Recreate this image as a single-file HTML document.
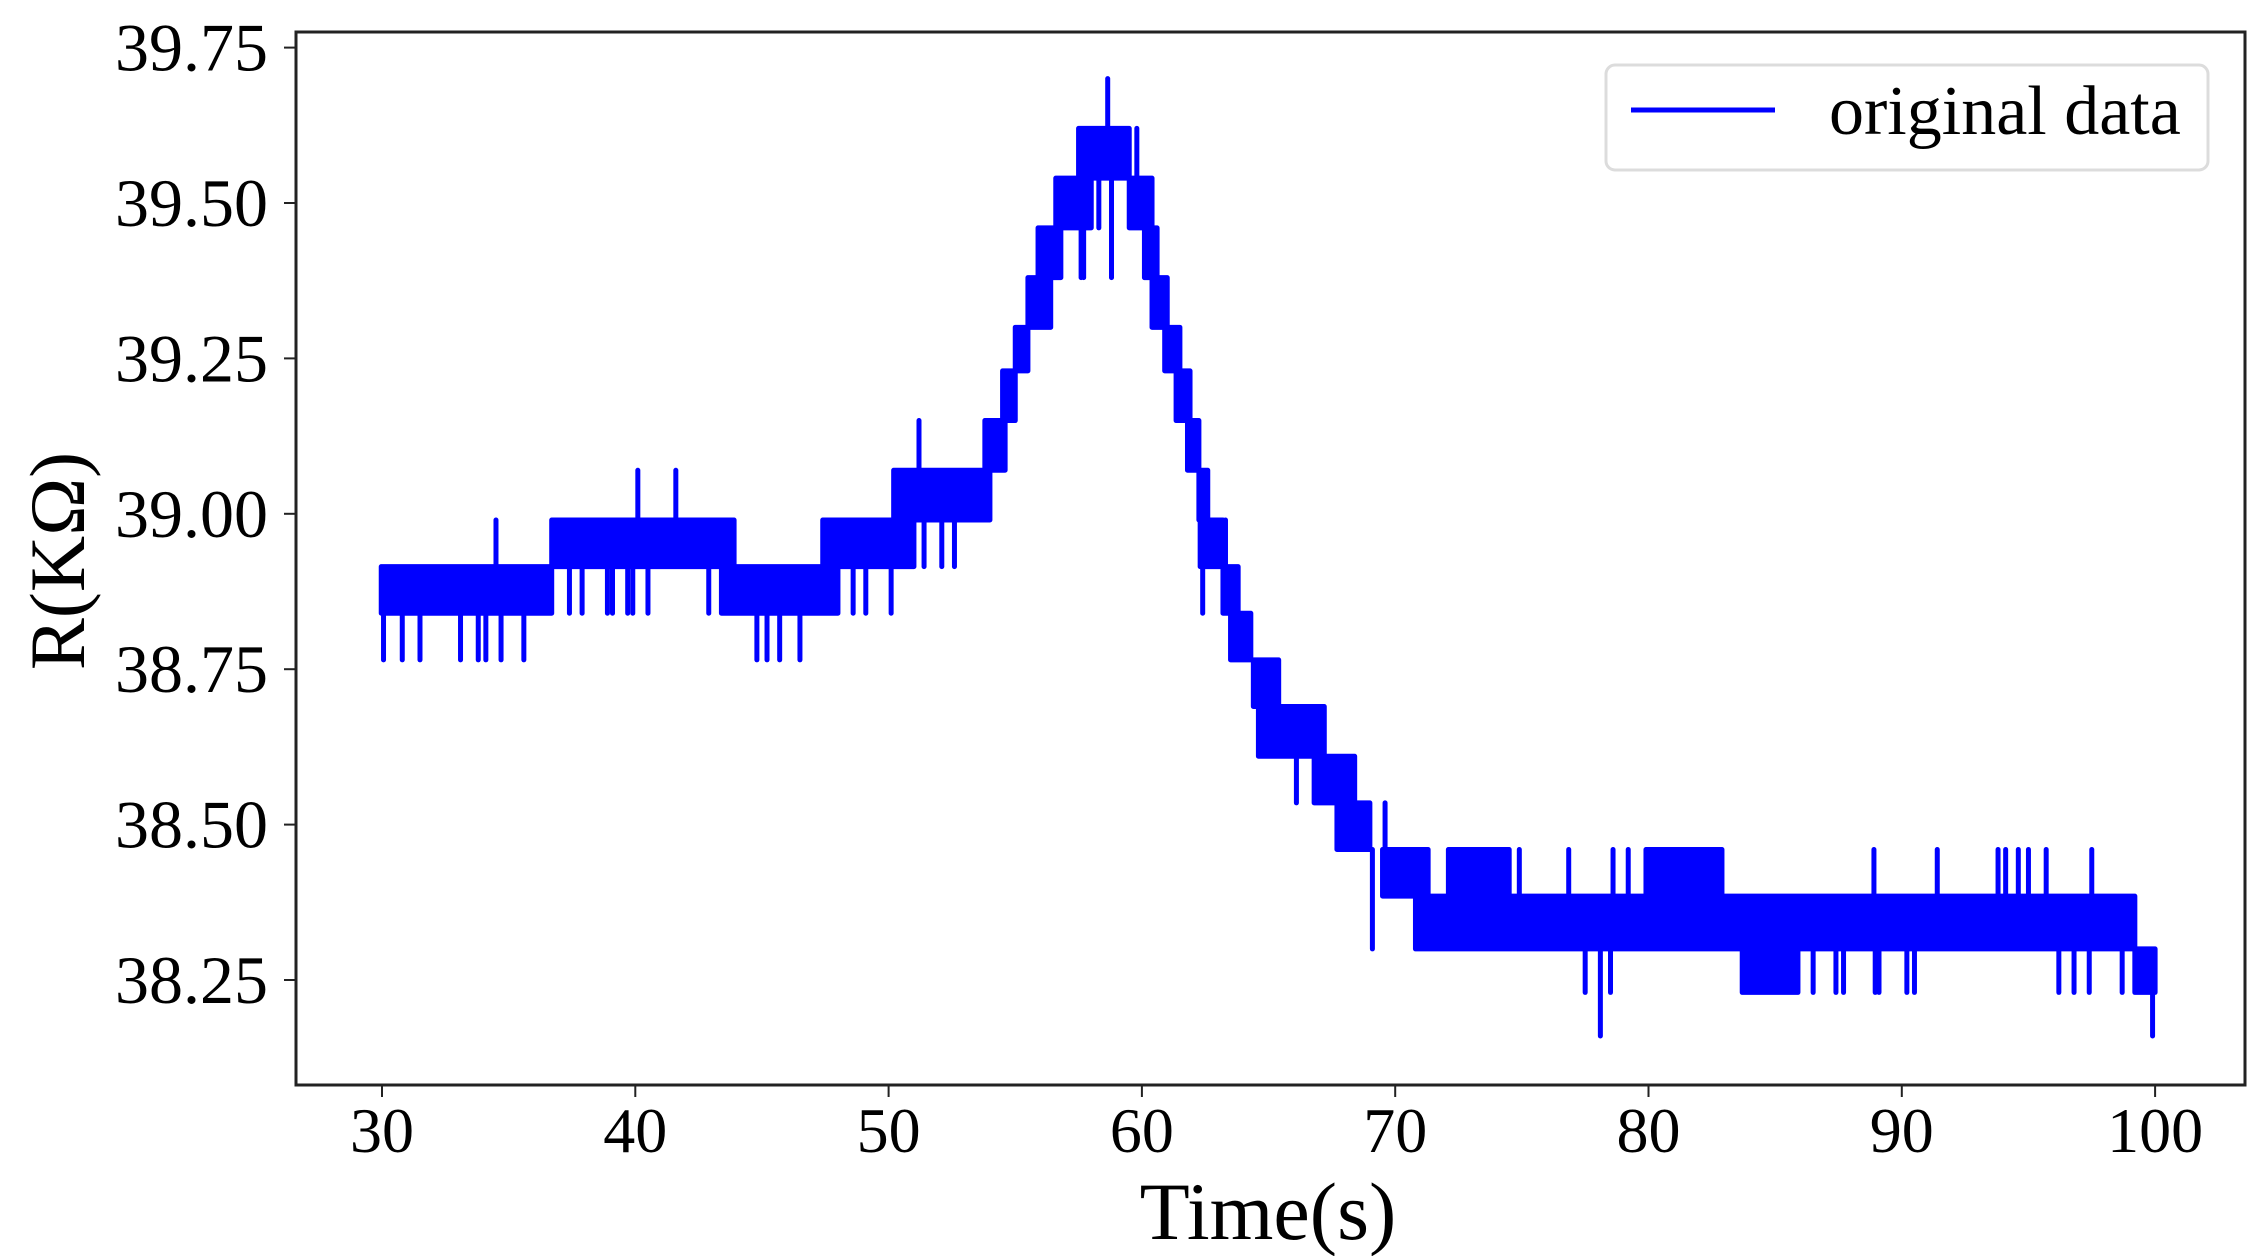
<!DOCTYPE html>
<html>
<head>
<meta charset="utf-8">
<style>
html,body{margin:0;padding:0;background:#fff;}
svg{display:block;}
text{font-family:"Liberation Serif","DejaVu Serif",serif;fill:#000;}
</style>
</head>
<body>
<svg id="chart" width="2263" height="1256" viewBox="0 0 2263 1256" xmlns="http://www.w3.org/2000/svg">
  <rect x="0" y="0" width="2263" height="1256" fill="#fff"/>
  <g id="plot"></g>
  <g id="axes"></g>
  <text x="1268" y="1239" font-size="82" text-anchor="middle">Time(s)</text>
  <text x="0" y="0" font-size="78" text-anchor="middle" transform="translate(84,561) rotate(-90)">R(KΩ)</text>
  <g>
    <rect x="1606" y="65" width="602" height="105" rx="9" ry="9" fill="#fff" stroke="#dcdcdc" stroke-width="3"/>
    <line x1="1631" y1="110" x2="1775" y2="110" stroke="#0000ff" stroke-width="5"/>
    <text x="1829" y="134" font-size="70">original data</text>
  </g>
</svg>
<script>
// ---- data ----
const xTicks = [30, 40, 50, 60, 70, 80, 90, 100];
const yTicks = [38.25, 38.50, 38.75, 39.00, 39.25, 39.50, 39.75];
const yTickLabels = ["38.25", "38.50", "38.75", "39.00", "39.25", "39.50", "39.75"];
// band segments: start time, end time, low value, high value
const segStart = [29.97, 36.7, 43.4, 47.4, 50.2, 53.8, 54.5, 55.0, 55.5, 55.9, 56.6, 57.5, 59.5, 60.1, 60.4, 60.9, 61.35, 61.8, 62.25, 62.3, 63.2, 63.5, 64.4, 64.6, 66.8, 67.7, 69.5, 70.8, 72.1, 79.9, 83.7, 99.2];
const segEnd   = [36.7, 43.9, 48.0, 51.0, 54.0, 54.6, 55.0, 55.5, 56.4, 56.8, 58.0, 59.5, 60.4, 60.6, 61.0, 61.5, 61.9, 62.25, 62.6, 63.2, 63.8, 64.3, 65.4, 67.2, 68.4, 69.0, 71.3, 99.2, 74.5, 82.9, 85.9, 100.0];
const segLo    = [38.84, 38.915, 38.84, 38.915, 38.99, 39.07, 39.15, 39.23, 39.30, 39.38, 39.46, 39.54, 39.46, 39.38, 39.30, 39.23, 39.15, 39.07, 38.99, 38.915, 38.84, 38.765, 38.69, 38.61, 38.535, 38.46, 38.385, 38.30, 38.385, 38.385, 38.23, 38.23];
const segHi    = [38.915, 38.99, 38.915, 38.99, 39.07, 39.15, 39.23, 39.30, 39.38, 39.46, 39.54, 39.62, 39.54, 39.46, 39.38, 39.30, 39.23, 39.15, 39.07, 38.99, 38.915, 38.84, 38.765, 38.69, 38.61, 38.535, 38.46, 38.385, 38.46, 38.46, 38.30, 38.30];
// spikes: time, base value, peak value
const spikeT    = [30.06, 30.8, 31.5, 33.1, 33.8, 34.1, 34.7, 35.6, 34.5, 37.4, 37.9, 38.9, 39.1, 39.7, 39.9, 40.5, 42.9, 40.1, 41.6, 44.8, 45.2, 45.7, 46.5, 48.6, 49.1, 50.1, 51.2, 51.4, 52.1, 52.6, 57.6, 57.7, 58.3, 58.65, 58.8, 59.8, 62.4, 63.3, 66.1, 69.1, 69.6, 74.9, 76.85, 78.6, 79.2, 88.9, 91.4, 93.8, 94.1, 94.6, 95.0, 95.7, 97.5, 77.5, 78.1, 78.5, 86.5, 87.4, 87.7, 88.95, 89.1, 90.2, 90.5, 96.2, 96.8, 97.4, 98.7, 99.9];
const spikeBase = [38.84, 38.84, 38.84, 38.84, 38.84, 38.84, 38.84, 38.84, 38.915, 38.915, 38.915, 38.915, 38.915, 38.915, 38.915, 38.915, 38.915, 38.99, 38.99, 38.84, 38.84, 38.84, 38.84, 38.915, 38.915, 38.915, 39.07, 38.99, 38.99, 38.99, 39.46, 39.46, 39.54, 39.62, 39.54, 39.54, 38.915, 38.915, 38.61, 38.46, 38.46, 38.385, 38.385, 38.385, 38.385, 38.385, 38.385, 38.385, 38.385, 38.385, 38.385, 38.385, 38.385, 38.30, 38.30, 38.30, 38.30, 38.30, 38.30, 38.30, 38.30, 38.30, 38.30, 38.30, 38.30, 38.30, 38.30, 38.23];
const spikeVal  = [38.765, 38.765, 38.765, 38.765, 38.765, 38.765, 38.765, 38.765, 38.99, 38.84, 38.84, 38.84, 38.84, 38.84, 38.84, 38.84, 38.84, 39.07, 39.07, 38.765, 38.765, 38.765, 38.765, 38.84, 38.84, 38.84, 39.15, 38.915, 38.915, 38.915, 39.38, 39.38, 39.46, 39.70, 39.38, 39.62, 38.84, 38.99, 38.535, 38.30, 38.535, 38.46, 38.46, 38.46, 38.46, 38.46, 38.46, 38.46, 38.46, 38.46, 38.46, 38.46, 38.46, 38.23, 38.16, 38.23, 38.23, 38.23, 38.23, 38.23, 38.23, 38.23, 38.23, 38.23, 38.23, 38.23, 38.23, 38.16];

// ---- axes functions ----
const L = 296, R = 2245, T = 32, B = 1085;
function X(t){ return 382 + (t - 30) * 25.33; }
function Y(v){ return 47.6 + (39.75 - v) * 621.6; }

const NS = "http://www.w3.org/2000/svg";
const plot = document.getElementById('plot');
const axes = document.getElementById('axes');
function mk(tag, attrs, parent){
  const e = document.createElementNS(NS, tag);
  for (const k in attrs) e.setAttribute(k, attrs[k]);
  parent.appendChild(e);
  return e;
}

for (let i = 0; i < segStart.length; i++){
  const x0 = X(segStart[i]), x1 = X(segEnd[i]);
  const y0 = Y(segHi[i]), y1 = Y(segLo[i]);
  const r = mk('rect', {x: x0, y: y0, width: Math.max(1, x1 - x0), height: y1 - y0, fill: '#0000ff', stroke: '#0000ff', 'stroke-width': 5, 'stroke-linejoin': 'round'}, plot);
  
  
}
for (let i = 0; i < spikeT.length; i++){
  const x = X(spikeT[i]);
  const ln = mk('line', {x1: x, x2: x, y1: Y(spikeBase[i]), y2: Y(spikeVal[i]), stroke: '#0000ff', 'stroke-width': 5, 'stroke-linecap': 'round'}, plot);
  
  
}

const frame = mk('rect', {x: L, y: T, width: R - L, height: B - T, fill: 'none', stroke: '#222', 'stroke-width': 3}, axes);



for (let i = 0; i < xTicks.length; i++){
  const x = X(xTicks[i]);
  const tk = mk('line', {x1: x, x2: x, y1: B, y2: B + 12, stroke: '#222', 'stroke-width': 2}, axes);
  
  
  const tx = mk('text', {x: x, y: 1152, 'font-size': 64, 'text-anchor': 'middle'}, axes);
  tx.textContent = String(xTicks[i]);
  
  
}
for (let i = 0; i < yTicks.length; i++){
  const y = Y(yTicks[i]);
  const tk = mk('line', {x1: L - 12, x2: L, y1: y, y2: y, stroke: '#222', 'stroke-width': 2}, axes);
  
  
  const tx = mk('text', {x: 268, y: y + 23, 'font-size': 68, 'text-anchor': 'end'}, axes);
  tx.textContent = yTickLabels[i];
  
  
}
</script>
</body>
</html>
